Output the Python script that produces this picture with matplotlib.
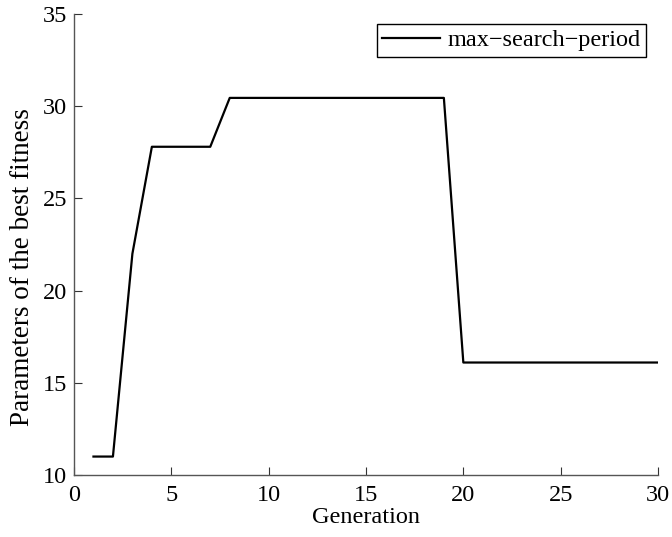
import matplotlib
matplotlib.use("Agg")
import matplotlib.pyplot as plt

generation = list(range(1, 31))
max_search_period = [11, 11, 22, 27.8, 27.8, 27.8, 27.8,
                     30.45, 30.45, 30.45, 30.45, 30.45, 30.45, 30.45, 30.45,
                     30.45, 30.45, 30.45, 30.45,
                     16.1, 16.1, 16.1, 16.1, 16.1, 16.1, 16.1, 16.1, 16.1, 16.1, 16.1]
series_label = "max\u2212search\u2212period"
x_ticks = [0, 5, 10, 15, 20, 25, 30]
y_ticks = [10, 15, 20, 25, 30, 35]

plt.rcParams['font.family'] = ['Liberation Serif', 'DejaVu Serif']
FS = 17.5

fig = plt.figure(figsize=(6.72, 5.37), dpi=100)
ax = fig.add_axes([74/672, 1 - 475/537, (658-74)/672, (475-14)/537])

ax.plot(generation, max_search_period, color='black', lw=1.6, label=series_label)

ax.set_xlim(0, 30)
ax.set_ylim(10, 35)
ax.set_xticks(x_ticks)
ax.set_yticks(y_ticks)
ax.tick_params(direction='in', length=6, width=0.8, labelsize=FS, color='#333333')
ax.tick_params(axis='x', pad=7)
ax.tick_params(axis='y', pad=5)
for s in ['top', 'right']:
    ax.spines[s].set_visible(False)
for s in ['left', 'bottom']:
    ax.spines[s].set_color('#555555')
    ax.spines[s].set_linewidth(1.0)

ax.set_xlabel("Generation", fontsize=FS, labelpad=1)
ax.set_ylabel("Parameters of the best fitness", fontsize=19.5)
ax.yaxis.set_label_coords((35 - 74) / 584, 0.45)

leg = ax.legend(loc='upper right', bbox_to_anchor=(646/672, 1 - 24/537), bbox_transform=fig.transFigure,
                fontsize=FS, fancybox=False, framealpha=1, edgecolor='black',
                handlelength=2.4, handletextpad=0.3, borderpad=0.22, borderaxespad=0)
leg.get_frame().set_linewidth(1.0)

fig.savefig("out.png", dpi=100)
